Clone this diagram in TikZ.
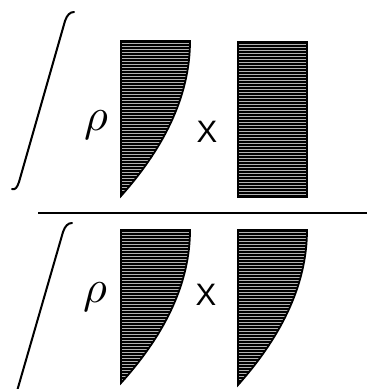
\documentclass[tikz,border=0pt]{standalone}
\usepackage{fontspec}
\newfontfamily\xfont{Liberation Sans}
\begin{document}
\begin{tikzpicture}[x=1pt,y=-1pt,
  integ/.style={line width=2pt,line cap=round},
  outl/.style={line width=1.8pt,line join=miter},
  hatchfill/.style={fill=black!30},
  hatchline/.style={line width=1.5pt},
  rholab/.style={inner sep=0pt,scale=4.6},
  xlab/.style={inner sep=0pt,font=\xfont\fontsize{31}{31}\selectfont}]
\useasboundingbox (0,0) rectangle (367,389);
\begin{scope}
\clip (0,0) rectangle (367,389);
% integral signs
\draw[integ] (74,12) .. controls (70,12) and (67,15) .. (65,21) -- (19,182) .. controls (17,188) and (15,190) .. (12,189);
\draw[integ] (72,223) .. controls (68,223) and (65,226) .. (63,232) -- (13,405);
\end{scope}
% top-left curved shape
\begin{scope}
\clip (121,41) -- (190,41) .. controls (190,92.7) and (167,144.3) .. (121,196) -- cycle;
\fill[hatchfill] (100,30) rectangle (200,200);
\foreach \yy in {42,45,...,198} \draw[hatchline] (115,\yy) -- (195,\yy);
\end{scope}
\draw[outl] (121,41) -- (190,41) .. controls (190,92.7) and (167,144.3) .. (121,196) -- cycle;
% top-right rectangle
\begin{scope}
\clip (238,42) rectangle (307,197);
\fill[hatchfill] (238,42) rectangle (307,197);
\foreach \yy in {43,46,...,197} \draw[hatchline] (235,\yy) -- (310,\yy);
\end{scope}
\draw[outl] (238,42) rectangle (307,197);
% separator
\draw[line width=1.5pt] (38,213) -- (367,213);
% bottom-left curved shape
\begin{scope}
\clip (121,230) -- (190,230) .. controls (190,281) and (167,332) .. (121,383) -- cycle;
\fill[hatchfill] (100,220) rectangle (200,390);
\foreach \yy in {231,234,...,386} \draw[hatchline] (115,\yy) -- (195,\yy);
\end{scope}
\draw[outl] (121,230) -- (190,230) .. controls (190,281) and (167,332) .. (121,383) -- cycle;
% bottom-right curved shape
\begin{scope}
\clip (238,230) -- (307,230) .. controls (307,281.7) and (284,333.3) .. (238,385) -- cycle;
\fill[hatchfill] (230,220) rectangle (310,390);
\foreach \yy in {231,234,...,386} \draw[hatchline] (232,\yy) -- (312,\yy);
\end{scope}
\draw[outl] (238,230) -- (307,230) .. controls (307,281.7) and (284,333.3) .. (238,385) -- cycle;
% labels
\node[rholab] (rho1) at (96,125) {$\rho$};
\node[xlab] (x1) at (207,132) {X};
\node[rholab] (rho2) at (95,297) {$\rho$};
\node[xlab] (x2) at (206,295) {X};
\end{tikzpicture}
\end{document}
